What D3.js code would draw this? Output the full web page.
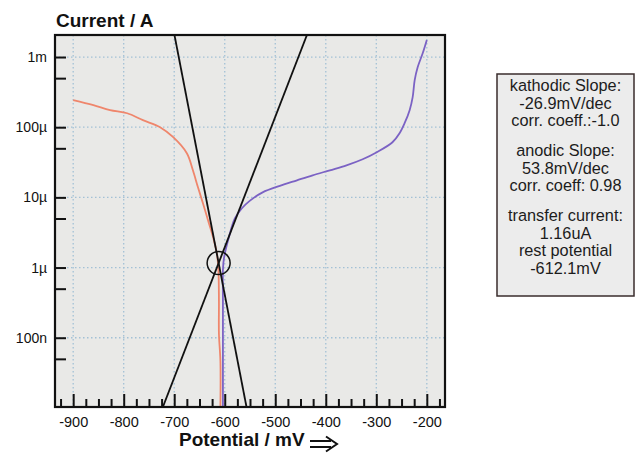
<!DOCTYPE html>
<html>
<head>
<meta charset="utf-8">
<script src="https://cdn.jsdelivr.net/npm/d3@7"></script>
<style>
    body { margin: 0; background: #fff; }
    text { font-family: Arial, "Liberation Sans", sans-serif; }
</style>
</head>
<body>
<div id="chart"></div>
<script>
// cathodic branch (orange), potential in mV, current in A
var cathodicE = [-900, -860, -827, -793, -762, -728, -702, -675, -663, -653, -643, -633, -623, -615.5, -612.5, -611.5, -611.5, -608.6, -608.6];
var cathodicI = [2.43e-4, 2.06e-4, 1.75e-4, 1.58e-4, 1.26e-4, 1.0e-4, 7.2e-5, 4.26e-5, 2.43e-5, 1.39e-5, 8.2e-6, 4.69e-6, 2.69e-6, 1.58e-6, 9.1e-7, 3.4e-7, 1.14e-7, 4.7e-8, 1.03e-8];

// anodic branch (purple)
var anodicE = [-603.6, -603.6, -603.6, -601.6, -591.8, -580, -566, -550, -525, -491, -457, -426, -392, -359, -327, -299, -268, -254, -244, -234, -228, -224, -218, -208, -200];
var anodicI = [1.03e-8, 3.4e-7, 9.1e-7, 1.35e-6, 2.7e-6, 5.0e-6, 7.0e-6, 9.0e-6, 1.18e-5, 1.46e-5, 1.75e-5, 2.06e-5, 2.43e-5, 2.86e-5, 3.49e-5, 4.4e-5, 6.1e-5, 8.2e-5, 1.14e-4, 1.75e-4, 2.69e-4, 4.69e-4, 7.2e-4, 1.14e-3, 1.75e-3];

// tafel fit
var restPotential = -612.1;
var transferCurrent = 1.16e-6;
var kathodicSlope = -26.9;
var anodicSlope = 53.8;

// axis ticks
var xTicks = [-900, -800, -700, -600, -500, -400, -300, -200];
var yTicks = [1e-3, 1e-4, 1e-5, 1e-6, 1e-7];
var yTickLabels = ["1m", "100\u00b5", "10\u00b5", "1\u00b5", "100n"];
var yMinorTicks = [5e-4, 5e-5, 5e-6, 5e-7, 5e-8];

var boxLines = ["kathodic Slope:", "-26.9mV/dec", "corr. coeff.:-1.0", "",
    "anodic Slope:", "53.8mV/dec", "corr. coeff: 0.98", "",
    "transfer current:", "1.16uA", "rest potential", "-612.1mV"];

var w = 637, h = 454;
var pLeft = 55, pRight = 445, pTop = 35, pBottom = 407;

var svg = d3.select("#chart").append("svg")
    .attr("width", w)
    .attr("height", h);

//scales
var xScale = d3.scaleLinear().domain([-936, -164]).range([pLeft, pRight]);
var yScale = d3.scaleLog().domain([1.03e-8, 2.06e-3]).range([pBottom, pTop]);

// plot background
svg.append("rect")
    .attr("x", pLeft).attr("y", pTop)
    .attr("width", pRight - pLeft).attr("height", pBottom - pTop)
    .attr("fill", "#e9e9e7");

svg.append("clipPath").attr("id", "clip")
    .append("rect")
    .attr("x", pLeft).attr("y", pTop)
    .attr("width", pRight - pLeft).attr("height", pBottom - pTop);

// grid
svg.append("g").selectAll("line")
    .data(xTicks)
    .enter().append("line")
    .attr("x1", function (d) { return xScale(d); })
    .attr("x2", function (d) { return xScale(d); })
    .attr("y1", pTop).attr("y2", pBottom)
    .attr("stroke", "#a3c1d6")
    .attr("stroke-width", 1.3)
    .attr("stroke-dasharray", "1.5,2.5");

svg.append("g").selectAll("line")
    .data(yTicks)
    .enter().append("line")
    .attr("y1", function (d) { return yScale(d); })
    .attr("y2", function (d) { return yScale(d); })
    .attr("x1", pLeft).attr("x2", pRight)
    .attr("stroke", "#a3c1d6")
    .attr("stroke-width", 1.3)
    .attr("stroke-dasharray", "1.5,2.5");

// curves
var line = d3.line()
    .x(function (d) { return xScale(d[0]); })
    .y(function (d) { return yScale(d[1]); });

var smooth = d3.line()
    .x(function (d) { return xScale(d[0]); })
    .y(function (d) { return yScale(d[1]); })
    .curve(d3.curveCatmullRom.alpha(0.5));

var plot = svg.append("g").attr("clip-path", "url(#clip)");

plot.append("path")
    .datum(d3.zip(cathodicE, cathodicI))
    .attr("d", smooth)
    .attr("fill", "none")
    .attr("stroke", "#ef866c")
    .attr("stroke-width", 1.8);

plot.append("path")
    .datum(d3.zip(anodicE, anodicI))
    .attr("d", smooth)
    .attr("fill", "none")
    .attr("stroke", "#7b62c4")
    .attr("stroke-width", 1.8);

// tafel lines through rest potential
var yLo = yScale.domain()[0], yHi = yScale.domain()[1];
function tafel(slope) {
    return [yLo, yHi].map(function (i) {
        return [restPotential + slope * (Math.log10(i) - Math.log10(transferCurrent)), i];
    });
}
[kathodicSlope, anodicSlope].forEach(function (s) {
    plot.append("path")
        .datum(tafel(s))
        .attr("d", line)
        .attr("fill", "none")
        .attr("stroke", "#111")
        .attr("stroke-width", 1.8);
});

svg.append("circle")
    .attr("cx", xScale(restPotential))
    .attr("cy", yScale(transferCurrent))
    .attr("r", 11.5)
    .attr("fill", "none")
    .attr("stroke", "#111")
    .attr("stroke-width", 1.5);

// frame
svg.append("rect")
    .attr("x", pLeft).attr("y", pTop)
    .attr("width", pRight - pLeft).attr("height", pBottom - pTop)
    .attr("fill", "none")
    .attr("stroke", "#111")
    .attr("stroke-width", 2.2);

//x axis
var xAxis = d3.axisBottom(xScale).tickValues(xTicks).tickSize(-13).tickPadding(10)
    .tickFormat(function (d) { return String(d); });
var xMinor = d3.axisBottom(xScale).tickValues(d3.range(-925, -170, 25).filter(function (d) { return d % 100 !== 0; }))
    .tickSize(-8).tickFormat("");

svg.append("g")
    .attr("transform", "translate(0," + pBottom + ")")
    .call(xMinor)
    .call(function (g) { g.select(".domain").remove(); })
    .selectAll("line").attr("stroke", "#111").attr("stroke-width", 2);

var gx = svg.append("g")
    .attr("transform", "translate(0," + pBottom + ")")
    .call(xAxis);
gx.select(".domain").remove();
gx.selectAll("line").attr("stroke", "#111").attr("stroke-width", 2);
gx.selectAll("text")
    .attr("fill", "#111")
    .style("font-size", "14.5px")
    .style("font-family", "Arial, 'Liberation Sans', sans-serif");

//y axis
var yAxis = d3.axisLeft(yScale).tickValues(yTicks).tickSize(-11).tickPadding(8)
    .tickFormat(function (d, i) { return yTickLabels[i]; });
var yMinor = d3.axisLeft(yScale).tickValues(yMinorTicks).tickSize(-11).tickFormat("");

svg.append("g")
    .attr("transform", "translate(" + pLeft + ",0)")
    .call(yMinor)
    .call(function (g) { g.select(".domain").remove(); })
    .selectAll("line").attr("stroke", "#111").attr("stroke-width", 2);

var gy = svg.append("g")
    .attr("transform", "translate(" + pLeft + ",0)")
    .call(yAxis);
gy.select(".domain").remove();
gy.selectAll("line").attr("stroke", "#111").attr("stroke-width", 2);
gy.selectAll("text")
    .attr("fill", "#111")
    .style("font-size", "14px")
    .style("font-family", "Arial, 'Liberation Sans', sans-serif");

// titles
svg.append("text")
    .attr("x", 56).attr("y", 27)
    .style("font-size", "19px")
    .style("font-weight", "bold")
    .attr("fill", "#111")
    .text("Current / A");

svg.append("text")
    .attr("x", 179).attr("y", 446)
    .style("font-size", "19px")
    .style("font-weight", "bold")
    .attr("fill", "#111")
    .text("Potential / mV");

// double arrow
svg.append("path")
    .attr("d", "M310,441 H331 M310,447 H331 M326,436.5 L337,444 L326,451.5")
    .attr("fill", "none")
    .attr("stroke", "#111")
    .attr("stroke-width", 2);

// fit result box
var box = svg.append("g");
box.append("rect")
    .attr("x", 497).attr("y", 74)
    .attr("width", 137).attr("height", 222)
    .attr("fill", "#ececec")
    .attr("stroke", "#3a2c2c")
    .attr("stroke-width", 1.5);

var ty = 91;
boxLines.forEach(function (t) {
    if (t === "") {
        ty += 12.5;
        return;
    }
    box.append("text")
        .attr("x", 565.5).attr("y", ty)
        .attr("text-anchor", "middle")
        .style("font-size", "16.3px")
        .attr("fill", "#1c1c1c")
        .text(t);
    ty += 17.5;
});
</script>
</body>
</html>
